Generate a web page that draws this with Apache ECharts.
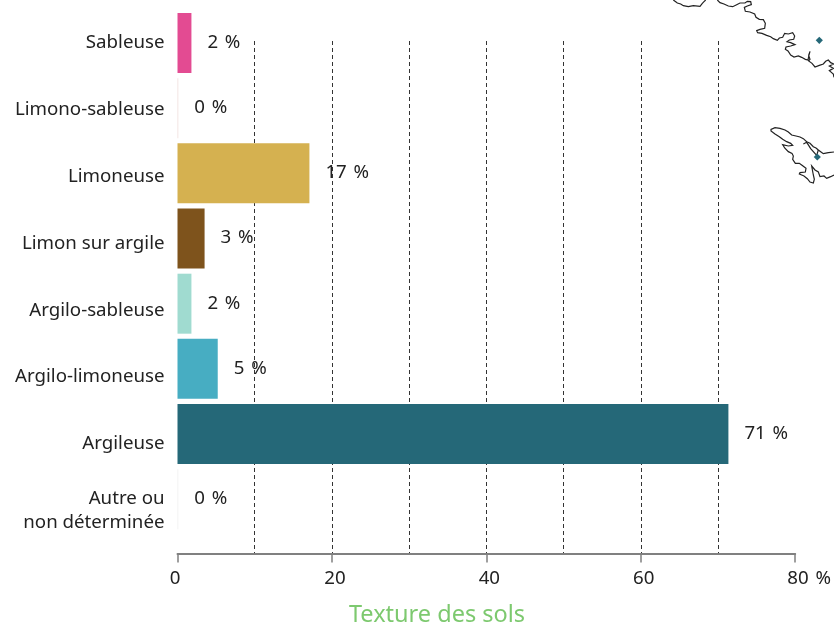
<!DOCTYPE html>
<html><head><meta charset="utf-8">
<style>html,body{margin:0;padding:0;background:#fff}#c{width:834px;height:624px}</style>
<script src="https://cdn.jsdelivr.net/npm/echarts@6/dist/echarts.min.js"></script>
</head><body><div id="c"></div>
<script>
const categories = ['Sableuse','Limono-sableuse','Limoneuse','Limon sur argile','Argilo-sableuse','Argilo-limoneuse','Argileuse','Autre ou\nnon déterminée'];
const values = [1.8,0.1,17.05,3.5,1.8,5.2,71.2,0.1];
const valueLabels = ['2\u200a %','0\u200a %','17\u200a %','3\u200a %','2\u200a %','5\u200a %','71\u200a %','0\u200a %'];
const colors = ['#e34b92','#f0dedb','#d5b150','#7e531c','#a0dbd0','#47adc2','#256878','#efefef'];
const axisTitle = 'Texture des sols';

const FONT = '"Noto Sans"';
const FS = 18.7;
const toPx = p => [660 + p[0] / 3, p[1] / 3];
const strands = [
  [[40,0],[52,9],[62,12],[70,17],[85,20],[100,17],[120,19],[127,10],[132,5],[137,0]],
  [[172,0],[180,8],[192,12],[205,18],[218,20],[230,14],[240,9],[255,9],[262,4],[272,5],[274,14],[262,18],[253,22],[256,34],[270,36],[284,42],[288,52],[298,58],[310,59],[316,70],[314,85],[300,88],[290,92],[293,98],[306,100],[320,106],[332,110],[340,116],[352,121],[358,114],[368,112],[374,100],[385,102],[398,98],[404,108],[401,118],[388,120],[381,125],[392,128],[405,134],[392,138],[378,141],[376,148],[384,153],[392,165],[402,171],[415,168],[425,172],[436,178],[444,180],[447,165],[450,154],[446,166],[450,178],[446,183],[456,190],[465,201],[478,196],[490,192],[497,184],[505,180],[512,188],[521,192],[508,198],[520,205],[508,212],[520,222],[522,232]],
  [[522,456],[505,458],[490,461],[482,455],[475,450],[468,444],[460,440],[450,430],[440,425],[430,416],[420,411],[408,408],[395,405],[385,396],[375,390],[360,385],[345,383],[333,388],[333,393],[345,402],[358,410],[368,418],[380,425],[392,430],[398,436],[385,438],[368,434],[374,444],[385,455],[396,460],[400,468],[398,478],[406,490],[418,490],[426,496],[438,505],[436,516],[420,518],[418,522],[432,528],[442,536],[450,546],[460,549],[463,538],[460,525],[455,498],[465,510],[475,516],[480,530],[492,528],[500,535],[512,530],[522,525]],
  [[430,432],[440,427],[446,436],[452,446],[460,455],[470,466],[475,450]]
];
const graphic = strands.map(s => ({
  type:'polyline', silent:true, shape:{points:s.map(toPx)},
  style:{stroke:'#222',lineWidth:1.2,fill:null}
})).concat([[819.3,40.3],[817.3,157]].map(c => ({
  type:'polygon', silent:true,
  shape:{points:[[c[0],c[1]-3.6],[c[0]+3.6,c[1]],[c[0],c[1]+3.6],[c[0]-3.6,c[1]]]},
  style:{fill:'#256878'}
})));

const chart = echarts.init(document.getElementById('c'), null, {renderer:'canvas'});
chart.setOption({
  animation:false,
  backgroundColor:'#fff',
  title:{text:axisTitle,left:432,top:598,textAlign:'center',
    textStyle:{fontFamily:FONT,fontSize:23.5,fontWeight:'normal',color:'#7dc96f'}},
  graphic:graphic,
  grid:[
    {left:177.5,width:619,top:10.4,height:521.4},
    {left:177.5,width:619,top:41,height:512.5},
    {left:177.5,width:619,top:9.6,height:534.4}
  ],
  xAxis:[
    {gridIndex:0,type:'value',min:0,max:80,show:false},
    {gridIndex:1,type:'value',min:0,max:80,interval:10,position:'bottom',
      axisLine:{show:false},axisTick:{show:false},axisLabel:{show:false},
      splitLine:{show:true,showMinLine:false,showMaxLine:false,lineStyle:{color:'#333',width:1,type:[4,3]}}},
    {gridIndex:1,type:'value',min:0,max:80,interval:20,position:'bottom',
      axisLine:{show:true,lineStyle:{color:'#808080',width:2}},
      axisTick:{show:true,length:9,lineStyle:{color:'#808080',width:1.5}},
      splitLine:{show:false},
      axisLabel:{margin:16,fontFamily:FONT,fontSize:FS,color:'#222',
        formatter:v => v===80 ? '{e|80\u200a %}' : v===0 ? '{s|0}' : '{m|'+v+'}',
        rich:{
          s:{fontFamily:FONT,fontSize:FS,color:'#222',padding:[0,5,0,0]},
          m:{fontFamily:FONT,fontSize:FS,color:'#222',padding:[0,0,0,6]},
          e:{fontFamily:FONT,fontSize:FS,color:'#222',padding:[0,0,0,28]}
        }}},
    {gridIndex:2,type:'value',min:0,max:80,show:false}
  ],
  yAxis:[
    {gridIndex:0,type:'category',inverse:true,data:categories,show:false},
    {gridIndex:1,type:'value',min:0,max:1,show:false},
    {gridIndex:2,type:'category',inverse:true,data:categories,
      axisLine:{show:false},axisTick:{show:false},splitLine:{show:false},
      axisLabel:{margin:13,fontFamily:FONT,fontSize:FS,color:'#222',lineHeight:24,interval:0,align:'right'}}
  ],
  series:[{
    type:'bar',xAxisIndex:0,yAxisIndex:0,barWidth:60,z:5,
    data:values.map((v,i)=>({value:v,itemStyle:{color:colors[i]}})),
    label:{show:true,position:'right',distance:16,offset:[0,-0.5],
      fontFamily:FONT,fontSize:FS,color:'#222',
      formatter:p=>valueLabels[p.dataIndex]}
  }]
});
</script></body></html>
